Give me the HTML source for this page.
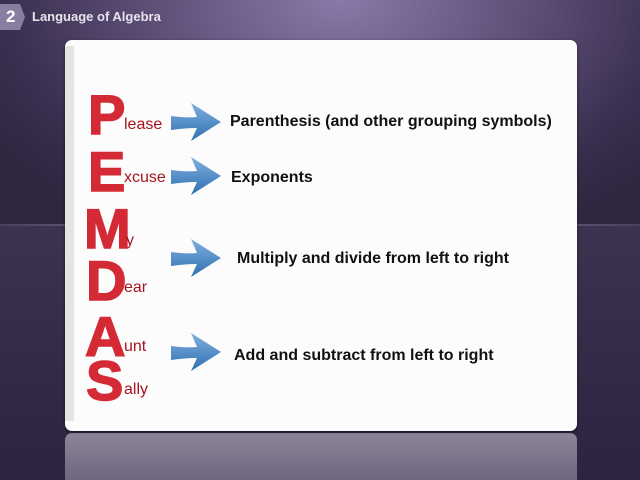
<!DOCTYPE html>
<html><head><style>
body{margin:0;width:640px;height:480px;overflow:hidden;position:relative;font-family:"Liberation Sans",sans-serif;
background:radial-gradient(ellipse 420px 260px at 340px 0px,#8a79a8 0%,#5e4f78 45%,#3a2f4f 80%,#2f2640 100%);}
.line{position:absolute;left:0;top:224px;width:640px;height:2px;background:linear-gradient(90deg,#4a4060,#9a8fb0,#4a4060);}
.lower{position:absolute;left:0;top:226px;width:640px;height:254px;background:linear-gradient(#3d3350,#2c2340);}
.panel{position:absolute;left:65px;top:40px;width:512px;height:391px;background:#fcfcfc;border-radius:7px;box-shadow:0 1px 3px rgba(0,0,0,.5);}
.panel:before{content:"";position:absolute;left:0;top:6px;width:9px;height:375px;background:#e4e4e4;}
.refl{position:absolute;left:65px;top:433px;width:512px;height:47px;border-radius:7px 7px 0 0;background:linear-gradient(#8e8696,#6e6580);}
.b{position:absolute;font-weight:bold;font-size:56px;color:#d42a35;line-height:1;-webkit-text-stroke:1.5px #d42a35;}
.s{position:absolute;font-size:16px;color:#a8141e;line-height:1;}
.t{position:absolute;font-size:16px;font-weight:bold;color:#111;line-height:1;}
svg{position:absolute;left:0;top:0;}
.hdr{position:absolute;left:0;top:4px;width:25px;height:26px;background:#8a7ea0;clip-path:polygon(0 0,80% 0,100% 50%,80% 100%,0 100%);color:#fff;font-weight:bold;font-size:17px;line-height:26px;text-indent:6px;}
.ht{position:absolute;left:32px;top:9px;color:#e8e4ee;font-weight:bold;font-size:13px;}
</style></head><body>
<div class="lower"></div><div class="line"></div>
<div class="hdr">2</div><div class="ht">Language of Algebra</div>
<div class="refl"></div>
<div class="panel"></div>
<div class="b" style="left:88px;top:87px">P</div><div class="s" style="left:124px;top:117px">lease</div>
<div class="b" style="left:88px;top:144px">E</div><div class="s" style="left:124px;top:170px">xcuse</div>
<div class="b" style="left:84px;top:201px">M</div><div class="s" style="left:126px;top:233px">y</div>
<div class="b" style="left:86px;top:253px">D</div><div class="s" style="left:124px;top:280px">ear</div>
<div class="b" style="left:85px;top:309px">A</div><div class="s" style="left:124px;top:339px">unt</div>
<div class="b" style="left:86px;top:353px">S</div><div class="s" style="left:124px;top:382px">ally</div>
<svg width="640" height="480">
<defs><linearGradient id="g" x1="0" y1="0" x2="0" y2="1"><stop offset="0" stop-color="#7fb0e0"/><stop offset="1" stop-color="#2f6fb0"/></linearGradient>
<g id="a"><path d="M0,-6 Q14,-4 26,-5 L20,-19 L50,0 L20,19 L26,6 Q14,6 0,8 Z" fill="url(#g)"/></g></defs>
<use href="#a" x="171" y="122"/>
<use href="#a" x="171" y="176"/>
<use href="#a" x="171" y="258"/>
<use href="#a" x="171" y="352"/>
</svg>
<div class="t" style="left:230px;top:114px">Parenthesis (and other grouping symbols)</div>
<div class="t" style="left:231px;top:170px">Exponents</div>
<div class="t" style="left:237px;top:251px">Multiply and divide from left to right</div>
<div class="t" style="left:234px;top:348px">Add and subtract from left to right</div>
</body></html>
